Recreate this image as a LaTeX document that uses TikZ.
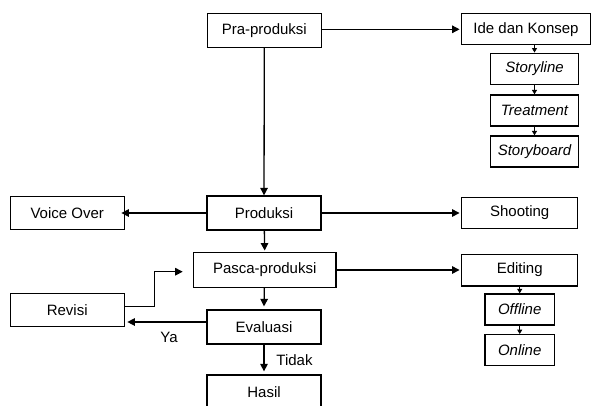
\documentclass[tikz,border=0pt]{standalone}
\usepackage{fontspec}
\setmainfont{Liberation Sans}
\usetikzlibrary{arrows.meta}
\begin{document}
\begin{tikzpicture}[x=1pt,y=-1pt,line width=1.3pt,line join=miter,
		>={Triangle[length=7.5pt,width=7.5pt]}]
	\tikzset{kotak/.style={draw,inner sep=0pt,minimum width=114pt,minimum height=34pt,font=\fontsize{15}{18}\selectfont},
		kecil/.style={kotak,minimum width=87.6pt,minimum height=31pt,font=\fontsize{15}{18}\selectfont\itshape},
		teks/.style={inner sep=0pt,font=\fontsize{15}{18}\selectfont},
		panah/.style={line width=1pt,-{Triangle[length=4.5pt,width=5pt]}}}
	\useasboundingbox (0,0) rectangle (593,405);
	% kolom tengah
	\node[kotak] (pra) at (264.3,30.5) {Pra-produksi};
	\node[kotak] (prod) at (264,213) {Produksi};
	\node[kotak,minimum width=142.7pt,minimum height=34.6pt] (pasca) at (264.7,270) {Pasca-produksi};
	\node[kotak] (eval) at (264,327) {Evaluasi};
	\node[kotak] (hasil) at (264,392) {Hasil};
	% kolom kiri
	\node[kotak,minimum height=33.3pt] (voice) at (67.2,213) {Voice Over};
	\node[kotak,minimum height=33pt] (revisi) at (67.2,309.8) {Revisi};
	% kolom kanan
	\node[kotak,minimum width=128.5pt,minimum height=31pt] (ide) at (526,29.3) {Ide dan Konsep};
	\node[kecil] (storyline) at (534.5,68.7) {Storyline};
	\node[kecil] (treatment) at (534.5,110.5) {Treatment};
	\node[kecil] (storyboard) at (534.5,151.5) {Storyboard};
	\node[kotak,minimum width=116pt,minimum height=31.6pt] (shooting) at (519.7,213) {Shooting};
	\node[kotak,minimum width=116pt,minimum height=31.7pt] (editing) at (519.7,270) {Editing};
	\node[kecil,minimum width=69.3pt] (offline) at (519.7,309.5) {Offline};
	\node[kecil,minimum width=69.3pt] (online) at (519.7,350.2) {Online};
	% label
	\node[teks] (ya) at (169,337.5) {Ya};
	\node[teks] (tidak) at (294.5,360) {Tidak};
	% panah utama
	\draw[->] (pra) -- (prod);
	\draw[->] (pra.east |- ide.west) -- ([xshift=-1.5pt]ide.west);
	\draw[->] (prod) -- ([xshift=-3.5pt]voice.east);
	\draw[->] (prod) -- ([xshift=-1.5pt]shooting.west);
	\draw[->] (prod) -- ([yshift=1.5pt]pasca.north);
	\draw[->] (pasca) -- ([xshift=-1.5pt]editing.west);
	\draw[->] (pasca) -- ([yshift=3pt]eval.north);
	\draw[->] (eval) -- ([yshift=3pt]hasil.north);
	\coordinate (keluar) at ([yshift=5pt]eval.west);
	\draw[->] (keluar) -- ([xshift=2.5pt]keluar -| revisi.east);
	\coordinate (balik) at ([yshift=3.2pt]revisi.east);
	\draw[->] (balik) -- ++(29.7,0) |- ([xshift=-10pt,yshift=-1.7pt]pasca.west);
	% panah kecil
	\draw[panah] (storyline.north |- ide.south) -- (storyline.north);
	\draw[panah] (storyline) -- (treatment);
	\draw[panah] (treatment) -- (storyboard);
	\draw[panah] (editing) -- (offline);
	\draw[panah] (offline) -- (online);
\end{tikzpicture}
\end{document}
